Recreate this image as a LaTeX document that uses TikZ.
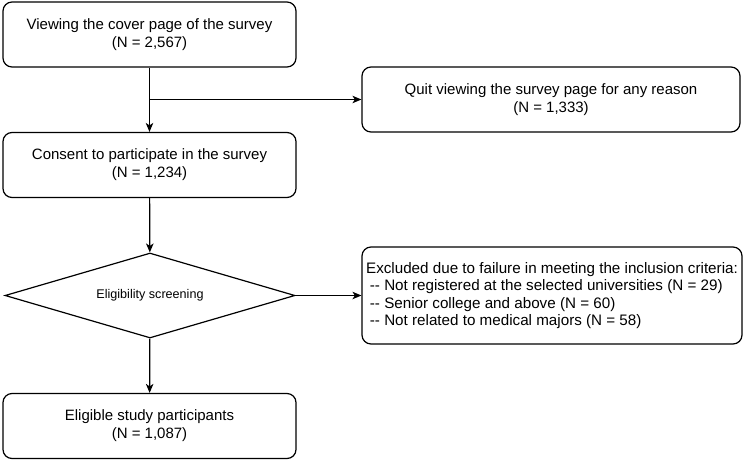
\documentclass[tikz,border=0pt]{standalone}
\usepackage{fontspec}
\setmainfont{Liberation Sans}
\usetikzlibrary{shapes.geometric,arrows.meta}

\begin{document}
\begin{tikzpicture}[x=1pt,y=-1pt,
    box/.style={draw,rounded corners=9pt,line width=1.2pt,align=center,inner sep=0pt,
      minimum width=293pt,minimum height=65pt,font=\fontsize{15}{18}\selectfont},
    decision/.style={draw,diamond,aspect=3.41,line width=1.2pt,inner sep=0pt,
      minimum width=290pt,minimum height=85pt,font=\fontsize{12.6}{14}\selectfont},
    arrow/.style={-{Stealth[length=9pt,width=7.5pt,inset=2.5pt]},line width=1.2pt}]
        \useasboundingbox (0,0) rectangle (744,461);

        \node[box] (cover) at (149.5,34.5) {Viewing the cover page of the survey\\(N = 2,567)};
        \node[box,minimum width=378pt] (quit) at (551,99.5) {Quit viewing the survey page for any reason\\(N = 1,333)};
        \node[box] (consent) at (149.5,165) {Consent to participate in the survey\\(N = 1,234)};
        \node[decision] (screen) at (150,295.5) {Eligibility screening};
        \node[box,minimum width=380pt,minimum height=97pt,align=left,font=\fontsize{15.2}{17.3}\selectfont] (excl) at (552,295.5)
          {Excluded due to failure in meeting the inclusion criteria:\\
           \hspace{0.25em}{-}{-} Not registered at the selected universities (N = 29)\\
           \hspace{0.25em}{-}{-} Senior college and above (N = 60)\\
           \hspace{0.25em}{-}{-} Not related to medical majors (N = 58)};
        \node[box] (eligible) at (149.5,426) {Eligible study participants\\(N = 1,087)};

        \coordinate (split) at (cover.south |- quit.west);

        \draw[arrow] (cover) -- (consent);
        \draw[arrow] (split) -- (quit.west);
        \draw[arrow] (consent) -- (screen);
        \draw[arrow] (screen) -- (excl);
        \draw[arrow] (screen) -- (eligible);
      \end{tikzpicture}
\end{document}
